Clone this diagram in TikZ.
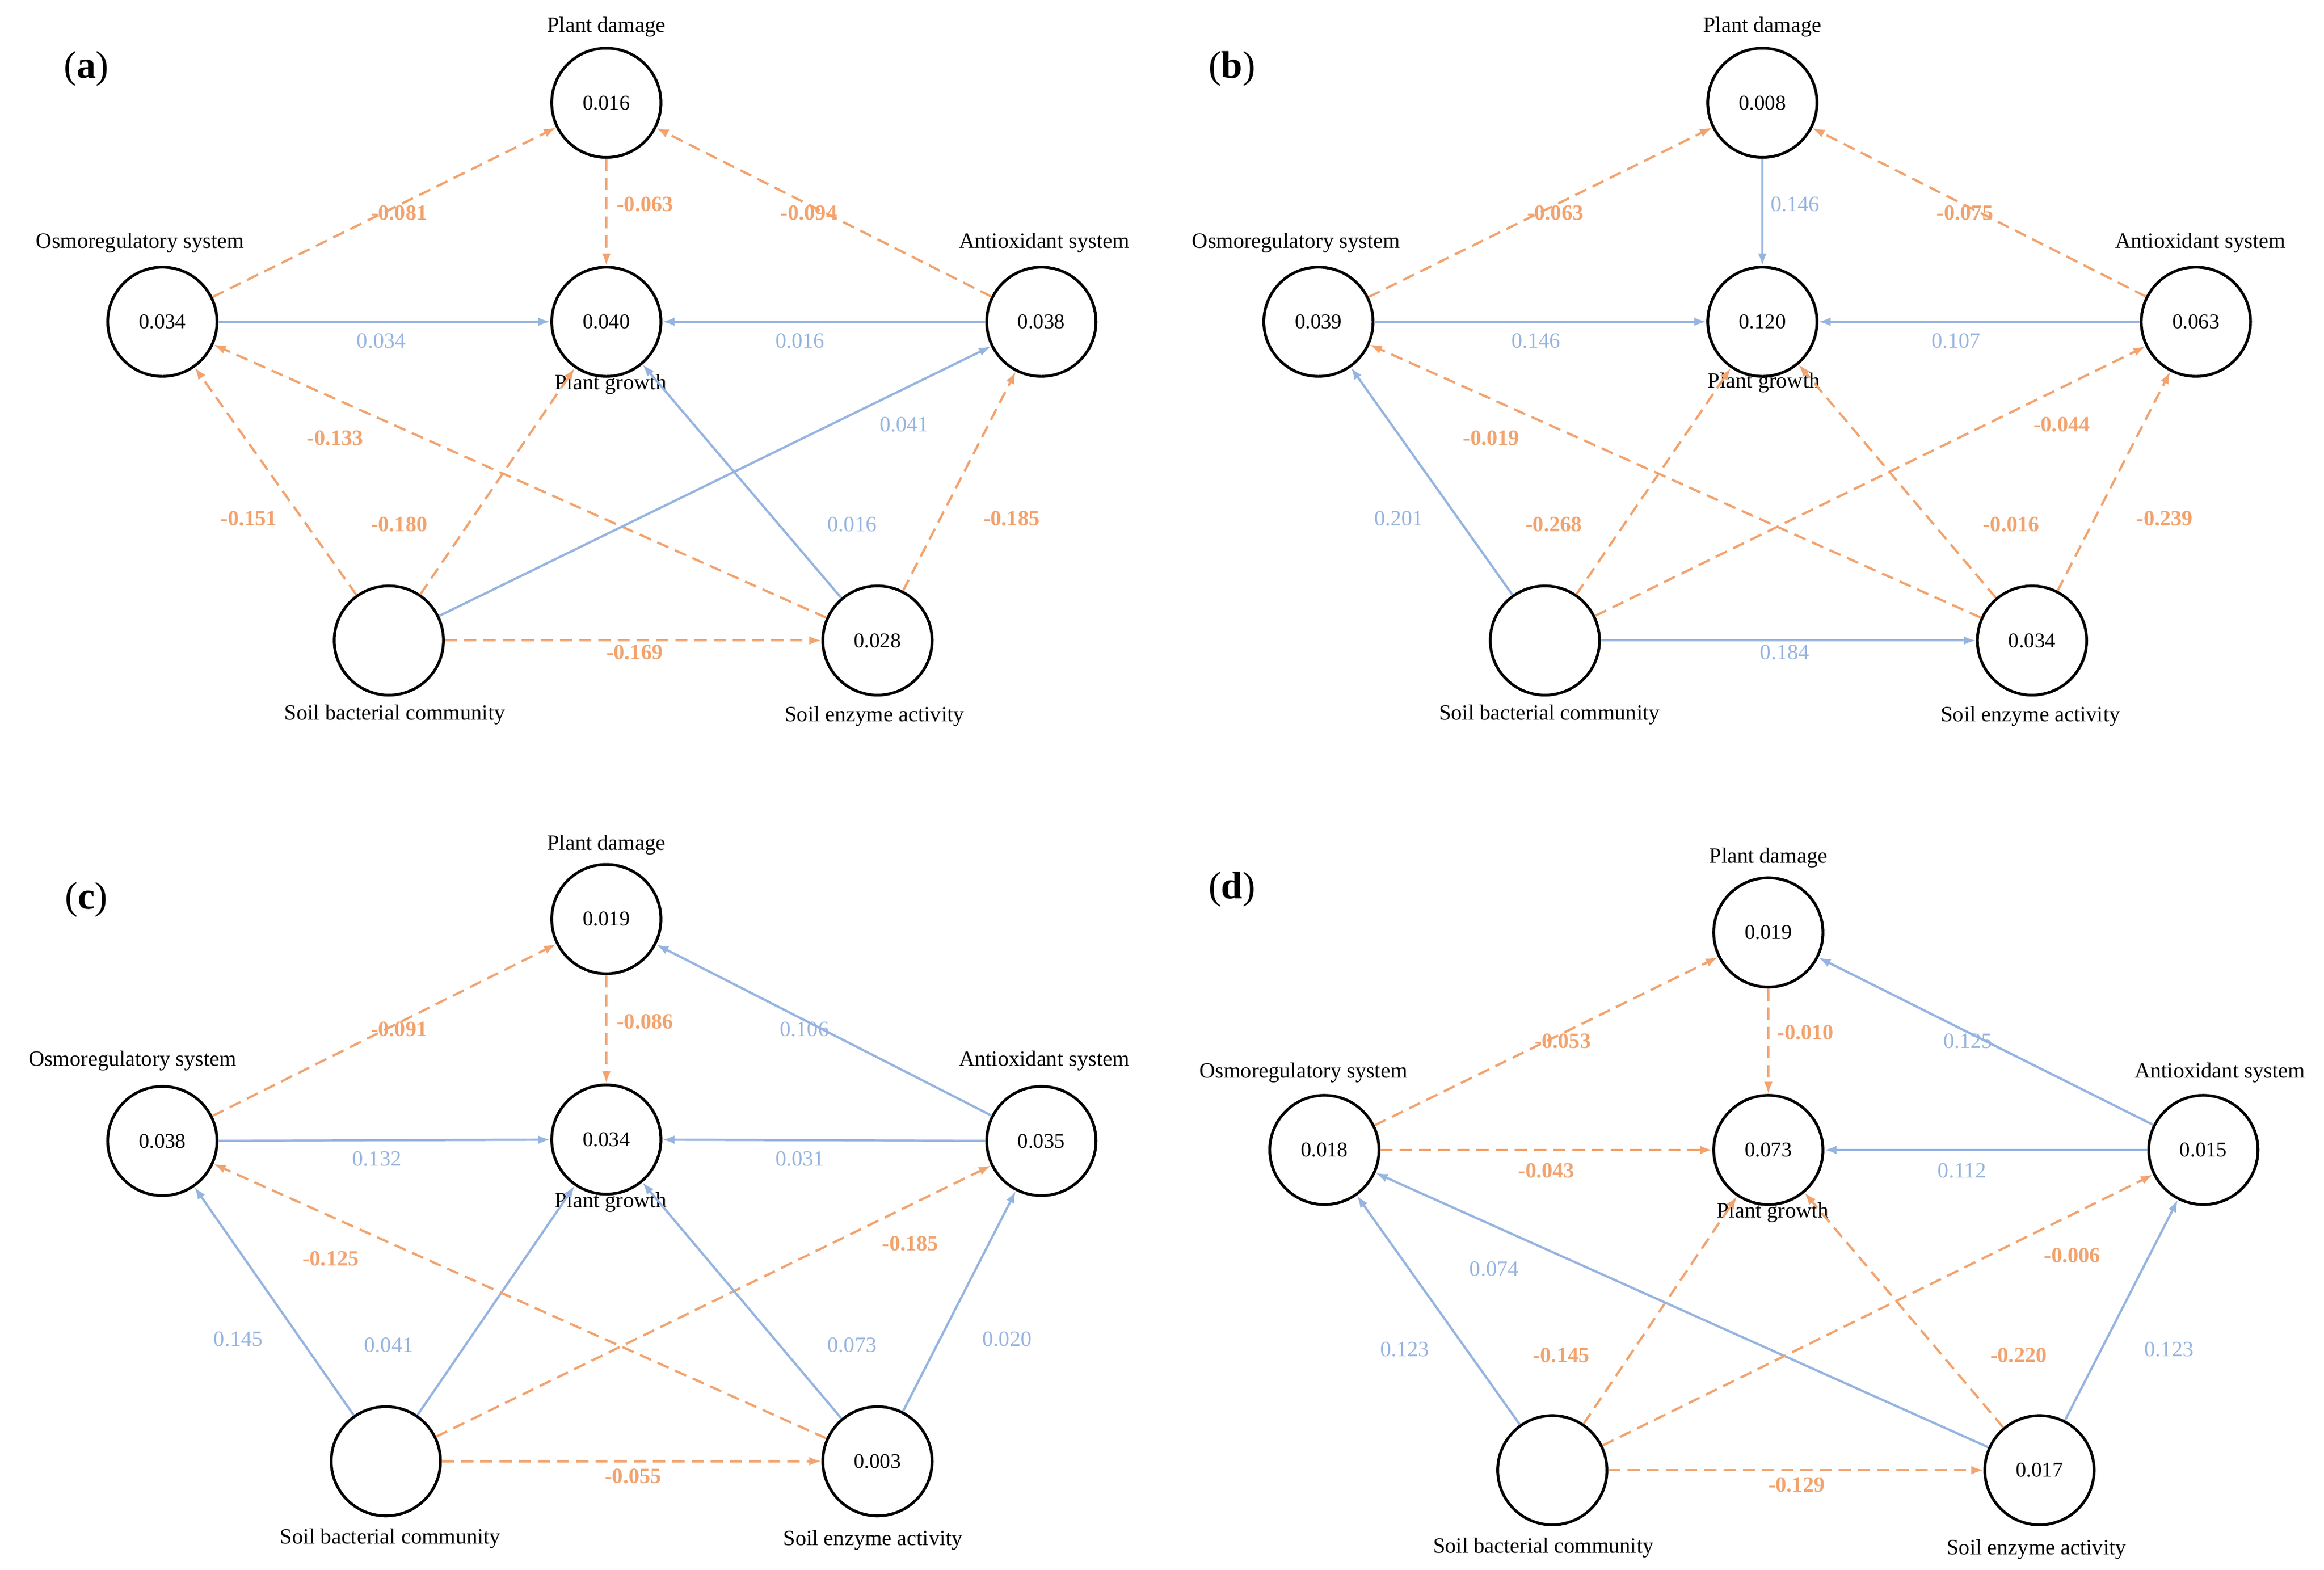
\documentclass[tikz,border=0pt]{standalone}
\usepackage{fontspec}
\setmainfont{Liberation Serif}
\usetikzlibrary{arrows.meta}
\definecolor{negc}{RGB}{242,163,110}
\definecolor{posc}{RGB}{150,180,224}
\begin{document}
\begin{tikzpicture}[x=0.03cm,y=-0.03cm,
  circ/.style={circle,draw=black,line width=1.6pt,minimum size=2.2cm,inner sep=0pt,font=\fontsize{12}{12}\selectfont},
  lab/.style={font=\fontsize{12.5}{13}\selectfont},
  negl/.style={draw=negc,dashed,dash pattern=on 7pt off 4pt,line width=1.3pt,-{Latex[length=7pt,width=5pt]}},
  posl/.style={draw=posc,line width=1.3pt,-{Latex[length=7pt,width=5pt]}},
  nv/.style={text=negc,font=\bfseries\fontsize{12.5}{13}\selectfont},
  pv/.style={text=posc,font=\fontsize{12.5}{13}\selectfont},
  pl/.style={font=\fontsize{22}{22}\selectfont}]
\useasboundingbox (0,0) rectangle (1560,1054);
% panel (a)
\node[pl] at (58,46) {(\textbf{a})};
\node[circ] (aPD) at (407,69) {0.016};
\node[circ] (aPG) at (407,216) {0.040};
\node[circ] (aOS) at (109,216) {0.034};
\node[circ] (aAN) at (699,216) {0.038};
\node[circ] (aSB) at (261,430) {};
\node[circ] (aSE) at (589,430) {0.028};
\node[lab] at (407,18) {Plant damage};
\node[lab] at (410,258) {Plant growth};
\node[lab] at (94,163) {Osmoregulatory system};
\node[lab] at (701,163) {Antioxidant system};
\node[lab] at (265,480) {Soil bacterial community};
\node[lab] at (587,481) {Soil enzyme activity};
\draw[negl] (aOS) -- (aPD);
\draw[negl] (aPD) -- (aPG);
\draw[negl] (aAN) -- (aPD);
\draw[posl] (aOS) -- (aPG);
\draw[posl] (aAN) -- (aPG);
\draw[negl] (aSB) -- (aOS);
\draw[negl] (aSB) -- (aPG);
\draw[negl] (aSE) -- (aOS);
\draw[posl] (aSB) -- (aAN);
\draw[posl] (aSE) -- (aPG);
\draw[negl] (aSE) -- (aAN);
\draw[negl] (aSB) -- (aSE);
\node[nv] at (268,143) {-0.081};
\node[nv] at (433,137) {-0.063};
\node[nv] at (543,143) {-0.094};
\node[pv] at (256,229) {0.034};
\node[pv] at (537,229) {0.016};
\node[nv] at (167,348) {-0.151};
\node[nv] at (268,352) {-0.180};
\node[nv] at (225,294) {-0.133};
\node[pv] at (607,285) {0.041};
\node[pv] at (572,352) {0.016};
\node[nv] at (679,348) {-0.185};
\node[nv] at (426,438) {-0.169};
% panel (b)
\node[pl] at (827,46) {(\textbf{b})};
\node[circ] (bPD) at (1183,69) {0.008};
\node[circ] (bPG) at (1183,216) {0.120};
\node[circ] (bOS) at (885,216) {0.039};
\node[circ] (bAN) at (1474,216) {0.063};
\node[circ] (bSB) at (1037,430) {};
\node[circ] (bSE) at (1364,430) {0.034};
\node[lab] at (1183,18) {Plant damage};
\node[lab] at (1184,257) {Plant growth};
\node[lab] at (870,163) {Osmoregulatory system};
\node[lab] at (1477,163) {Antioxidant system};
\node[lab] at (1040,480) {Soil bacterial community};
\node[lab] at (1363,481) {Soil enzyme activity};
\draw[negl] (bOS) -- (bPD);
\draw[posl] (bPD) -- (bPG);
\draw[negl] (bAN) -- (bPD);
\draw[posl] (bOS) -- (bPG);
\draw[posl] (bAN) -- (bPG);
\draw[posl] (bSB) -- (bOS);
\draw[negl] (bSB) -- (bPG);
\draw[negl] (bSE) -- (bOS);
\draw[negl] (bSB) -- (bAN);
\draw[negl] (bSE) -- (bPG);
\draw[negl] (bSE) -- (bAN);
\draw[posl] (bSB) -- (bSE);
\node[nv] at (1044,143) {-0.063};
\node[pv] at (1205,137) {0.146};
\node[nv] at (1319,143) {-0.075};
\node[pv] at (1031,229) {0.146};
\node[pv] at (1313,229) {0.107};
\node[pv] at (939,348) {0.201};
\node[nv] at (1043,352) {-0.268};
\node[nv] at (1001,294) {-0.019};
\node[nv] at (1384,285) {-0.044};
\node[nv] at (1350,352) {-0.016};
\node[nv] at (1453,348) {-0.239};
\node[pv] at (1198,438) {0.184};
% panel (c)
\node[pl] at (58,604) {(\textbf{c})};
\node[circ] (cPD) at (407,617) {0.019};
\node[circ] (cPG) at (407,765) {0.034};
\node[circ] (cOS) at (109,766) {0.038};
\node[circ] (cAN) at (699,766) {0.035};
\node[circ] (cSB) at (259,981) {};
\node[circ] (cSE) at (589,981) {0.003};
\node[lab] at (407,567) {Plant damage};
\node[lab] at (410,807) {Plant growth};
\node[lab] at (89,712) {Osmoregulatory system};
\node[lab] at (701,712) {Antioxidant system};
\node[lab] at (262,1033) {Soil bacterial community};
\node[lab] at (586,1034) {Soil enzyme activity};
\draw[negl] (cOS) -- (cPD);
\draw[negl] (cPD) -- (cPG);
\draw[posl] (cAN) -- (cPD);
\draw[posl] (cOS) -- (cPG);
\draw[posl] (cAN) -- (cPG);
\draw[posl] (cSB) -- (cOS);
\draw[posl] (cSB) -- (cPG);
\draw[negl] (cSE) -- (cOS);
\draw[negl] (cSB) -- (cAN);
\draw[posl] (cSE) -- (cPG);
\draw[posl] (cSE) -- (cAN);
\draw[negl] (cSB) -- (cSE);
\node[nv] at (268,691) {-0.091};
\node[nv] at (433,686) {-0.086};
\node[pv] at (540,691) {0.106};
\node[pv] at (253,778) {0.132};
\node[pv] at (537,778) {0.031};
\node[pv] at (160,899) {0.145};
\node[pv] at (261,903) {0.041};
\node[nv] at (222,845) {-0.125};
\node[nv] at (611,835) {-0.185};
\node[pv] at (572,903) {0.073};
\node[pv] at (676,899) {0.020};
\node[nv] at (425,991) {-0.055};
% panel (d)
\node[pl] at (827,597) {(\textbf{d})};
\node[circ] (dPD) at (1187,626) {0.019};
\node[circ] (dPG) at (1187,772) {0.073};
\node[circ] (dOS) at (889,772) {0.018};
\node[circ] (dAN) at (1479,772) {0.015};
\node[circ] (dSB) at (1042,987) {};
\node[circ] (dSE) at (1369,987) {0.017};
\node[lab] at (1187,576) {Plant damage};
\node[lab] at (1190,814) {Plant growth};
\node[lab] at (875,720) {Osmoregulatory system};
\node[lab] at (1490,720) {Antioxidant system};
\node[lab] at (1036,1039) {Soil bacterial community};
\node[lab] at (1367,1040) {Soil enzyme activity};
\draw[negl] (dOS) -- (dPD);
\draw[negl] (dPD) -- (dPG);
\draw[posl] (dAN) -- (dPD);
\draw[negl] (dOS) -- (dPG);
\draw[posl] (dAN) -- (dPG);
\draw[posl] (dSB) -- (dOS);
\draw[negl] (dSB) -- (dPG);
\draw[posl] (dSE) -- (dOS);
\draw[negl] (dSB) -- (dAN);
\draw[negl] (dSE) -- (dPG);
\draw[posl] (dSE) -- (dAN);
\draw[negl] (dSB) -- (dSE);
\node[nv] at (1049,699) {-0.053};
\node[nv] at (1212,693) {-0.010};
\node[pv] at (1321,699) {0.125};
\node[nv] at (1038,786) {-0.043};
\node[pv] at (1317,786) {0.112};
\node[pv] at (943,906) {0.123};
\node[nv] at (1048,910) {-0.145};
\node[pv] at (1003,852) {0.074};
\node[nv] at (1391,843) {-0.006};
\node[nv] at (1355,910) {-0.220};
\node[pv] at (1456,906) {0.123};
\node[nv] at (1206,997) {-0.129};
\end{tikzpicture}
\end{document}
